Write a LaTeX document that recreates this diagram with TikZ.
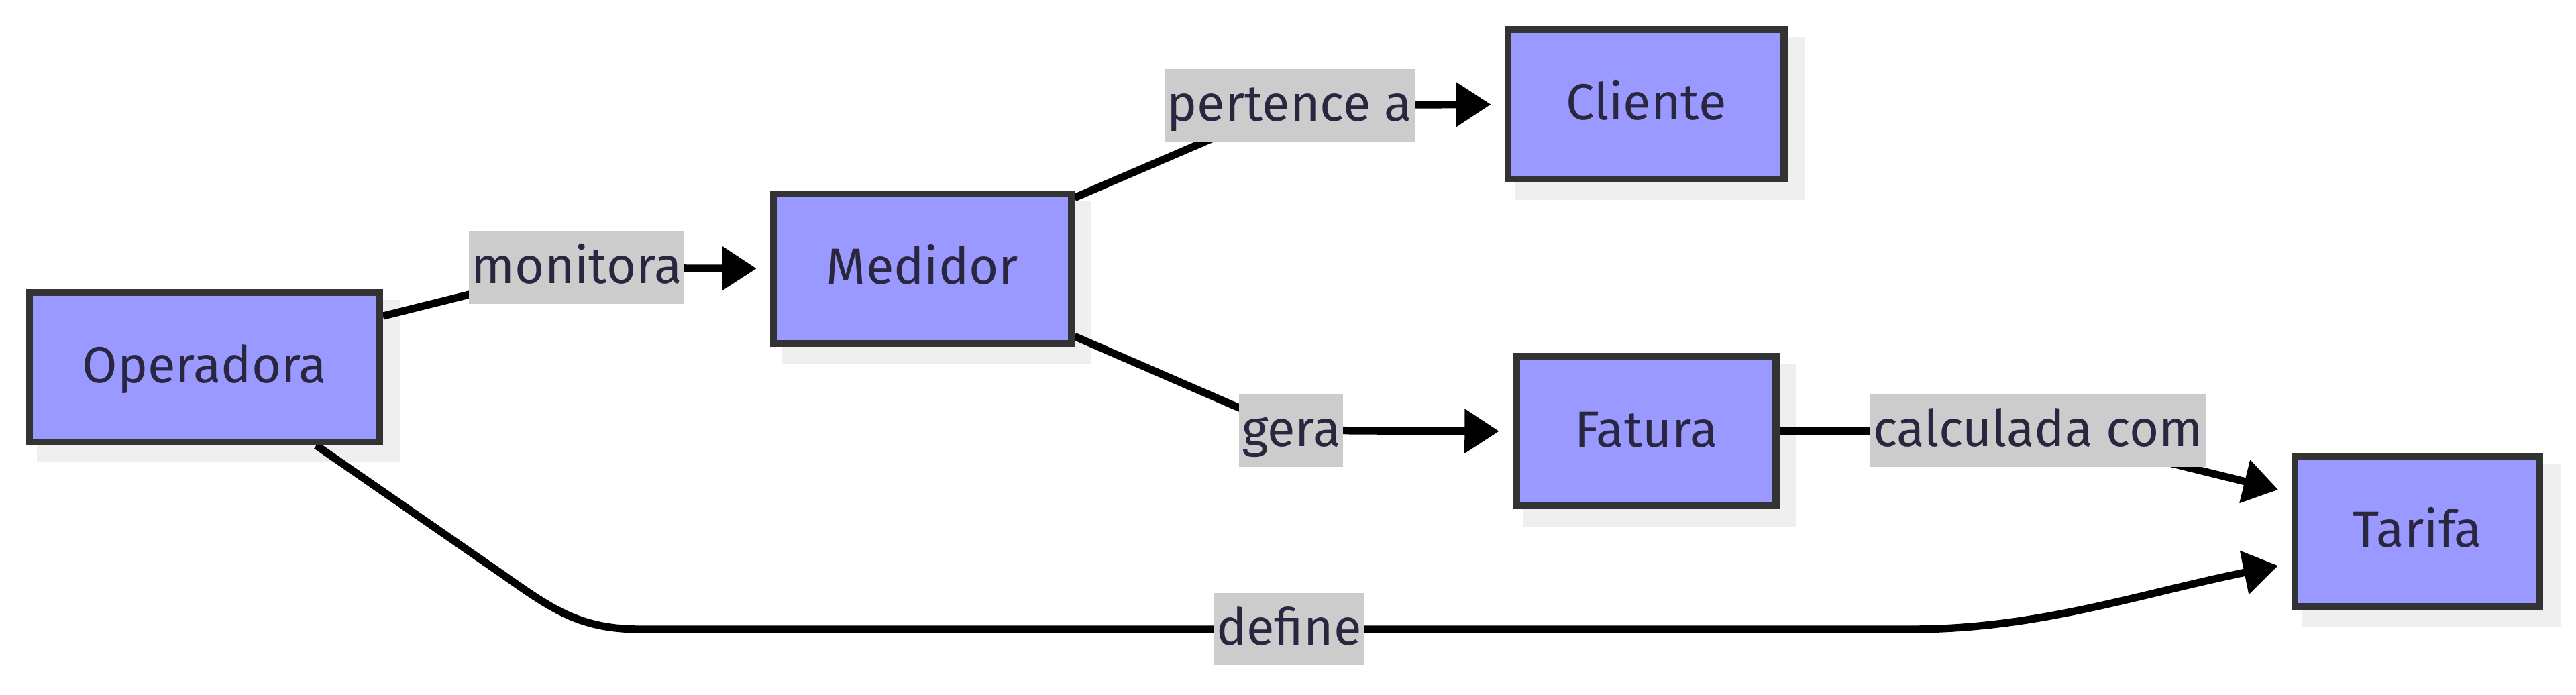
\documentclass[tikz,border=0pt]{standalone}
\usepackage{fontspec}
\setmainfont{Fira Sans}
\usetikzlibrary{arrows.meta,calc}
\pgfdeclarelayer{shadowlayer}
\pgfdeclarelayer{edgelayer}
\pgfsetlayers{shadowlayer,edgelayer,main}
\definecolor{boxfill}{HTML}{9999FF}
\definecolor{boxline}{HTML}{333333}
\definecolor{shadowc}{HTML}{EFEFEF}
\definecolor{labfill}{HTML}{CCCCCC}
\definecolor{txt}{HTML}{2A2640}
\newcommand{\diafont}{\fontsize{31}{37}\selectfont}
\begin{document}
\begin{tikzpicture}[x=1pt,y=-1pt,
  entity/.style={draw=boxline, fill=boxfill, line width=4.2pt, minimum height=91pt, inner sep=0pt, text height=22pt, text depth=3pt, text=txt, font=\diafont},
  elabel/.style={fill=labfill, text=txt, minimum height=44pt, inner xsep=1.5pt, inner ysep=0pt, text height=22pt, text depth=2.6pt, font=\diafont},
  edge/.style={line width=4.6pt, black, -{Triangle[length=21pt,width=26pt]}, shorten >=8.4pt}
]
\useasboundingbox (0,0) rectangle (1568,423);

\node[entity, minimum width=213pt] (op) at (124.5,223.5) {Operadora};
\node[entity, minimum width=181pt] (md) at (561.5,163.5) {Medidor};
\node[entity, minimum width=168pt] (cl) at (1002,63.5) {Cliente};
\node[entity, minimum width=158pt] (fa) at (1002,262.5) {Fatura};
\node[entity, minimum width=149pt] (tf) at (1471.5,323.5) {Tarifa};

\node[elabel] (lm) at (351,163) {monitora};
\node[elabel] (lp) at (785,64) {pertence a};
\node[elabel] (lg) at (786,262) {gera};
\node[elabel] (lc) at (1240.5,262) {calculada com};
\node[elabel] (ld) at (784.5,383) {define};

\coordinate (k1) at (305,349);
\coordinate (k2) at (335,370);
\coordinate (k3) at (352,383);
\coordinate (k4) at (390,383);
\coordinate (k5) at (1163,383);
\coordinate (k6) at (1240,383);
\coordinate (k7) at (1300,362);

\begin{pgfonlayer}{shadowlayer}
\fill[white] (0,0) rectangle (1568,423);
\foreach \n in {op,md,cl,fa,tf}
  \fill[shadowc] ($(\n.south west)+(6.6,10.4)$) rectangle ($(\n.north east)+(10.4,6.6)$);
\end{pgfonlayer}

\begin{pgfonlayer}{edgelayer}
\draw[edge] (op.16) -- (lm.center) -- (md.west);
\draw[edge] (md.25) -- (lp.center) -- (cl.west);
\draw[edge, rounded corners=38pt] (md.-24) -- (lg.center) -- (fa.west);
\draw[edge] (fa.east) -- (lc.center) -- (tf.163);
\draw[edge] (op.-35) -- (k1) .. controls (k2) and (k3) .. (k4) -- (ld.center) -- (k5) .. controls (k6) and (k7) .. (tf.194);
\end{pgfonlayer}
\end{tikzpicture}
\end{document}
